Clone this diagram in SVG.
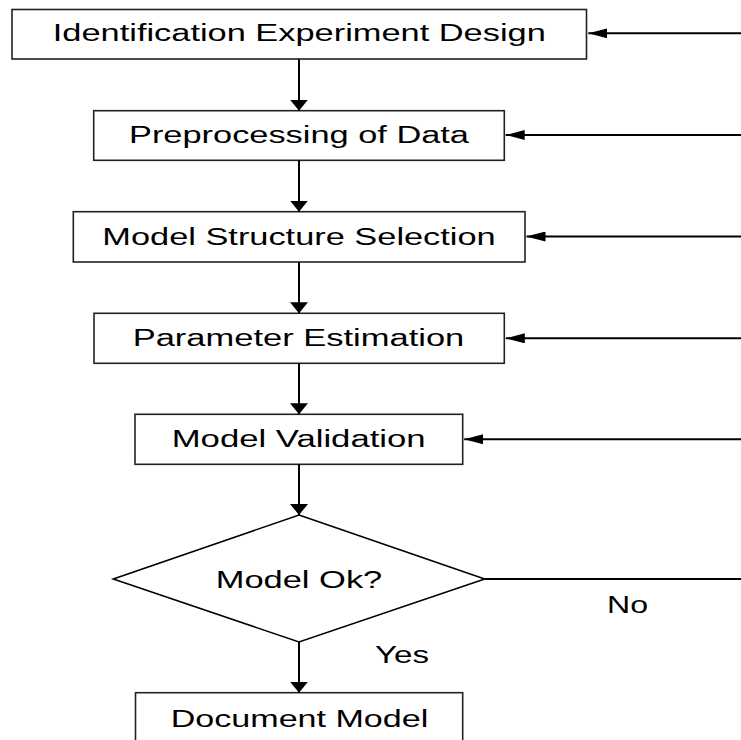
<svg xmlns="http://www.w3.org/2000/svg" width="741" height="740" viewBox="0 0 741 740">
<style>
.box{fill:#fff;stroke:#222;stroke-width:1.6}
.dia{fill:#fff;stroke:#000;stroke-width:1.6}
.t{font-family:"Liberation Sans",Arial,sans-serif;font-size:23px;fill:#000;text-anchor:middle}
.c{stroke:#000;stroke-width:2;fill:none}
.v{marker-end:url(#av)}
.h{marker-end:url(#ah)}
</style>
<defs>
<marker id="av" markerUnits="userSpaceOnUse" orient="auto" markerWidth="11" markerHeight="18" refX="11" refY="9" viewBox="0 0 11 18"><path d="M0,0 L11,9 L0,18 z" fill="#000"/></marker>
<marker id="ah" markerUnits="userSpaceOnUse" orient="auto" markerWidth="19" markerHeight="10" refX="19" refY="5" viewBox="0 0 19 10"><path d="M0,0 L19,5 L0,10 z" fill="#000"/></marker>
</defs>
<rect width="741" height="740" fill="#fff"/>
<g id="n1"><rect class="box" x="12" y="9.5" width="574.5" height="49.5"/><text class="t" x="299.3" y="40.5" textLength="493" lengthAdjust="spacingAndGlyphs">Identification Experiment Design</text></g>
<g id="n2"><rect class="box" x="93.7" y="110.7" width="410.6" height="49.6"/><text class="t" x="299" y="143" textLength="340" lengthAdjust="spacingAndGlyphs">Preprocessing of Data</text></g>
<g id="n3"><rect class="box" x="73.3" y="211.7" width="451.7" height="50.3"/><text class="t" x="299" y="244.5" textLength="393.4" lengthAdjust="spacingAndGlyphs">Model Structure Selection</text></g>
<g id="n4"><rect class="box" x="94" y="313.3" width="410.3" height="50"/><text class="t" x="298.5" y="346" textLength="331.6" lengthAdjust="spacingAndGlyphs">Parameter Estimation</text></g>
<g id="n5"><rect class="box" x="135" y="414.3" width="327.7" height="50"/><text class="t" x="298.7" y="447" textLength="254" lengthAdjust="spacingAndGlyphs">Model Validation</text></g>
<g id="n6"><polygon class="dia" points="299,515 484.7,579 299,642 113.3,579"/><text class="t" x="299" y="587.5" textLength="166.6" lengthAdjust="spacingAndGlyphs">Model Ok?</text></g>
<g id="n7"><rect class="box" x="135.5" y="692.7" width="327.2" height="52"/><text class="t" x="299.5" y="726.5" textLength="257.5" lengthAdjust="spacingAndGlyphs">Document Model</text></g>
<g id="connectors">
<line class="c v" x1="299" y1="59" x2="299" y2="110.7"/>
<line class="c v" x1="299" y1="160.3" x2="299" y2="211.7"/>
<line class="c v" x1="299" y1="262" x2="299" y2="313.3"/>
<line class="c v" x1="299" y1="363.3" x2="299" y2="414.3"/>
<line class="c v" x1="299" y1="464.3" x2="299" y2="515"/>
<line class="c v" x1="299" y1="642" x2="299" y2="692.7"/>
<line class="c h" x1="741" y1="33.3" x2="588.3" y2="33.3"/>
<line class="c h" x1="741" y1="135" x2="505.7" y2="135"/>
<line class="c h" x1="741" y1="236.5" x2="526.5" y2="236.5"/>
<line class="c h" x1="741" y1="338.3" x2="505.8" y2="338.3"/>
<line class="c h" x1="741" y1="439.3" x2="464.2" y2="439.3"/>
<line class="c" x1="484.7" y1="579" x2="741" y2="579"/>
<text class="t" x="627.5" y="612.5" textLength="41" lengthAdjust="spacingAndGlyphs">No</text>
<text class="t" x="402" y="662.5" textLength="54" lengthAdjust="spacingAndGlyphs">Yes</text>
</g>
</svg>
